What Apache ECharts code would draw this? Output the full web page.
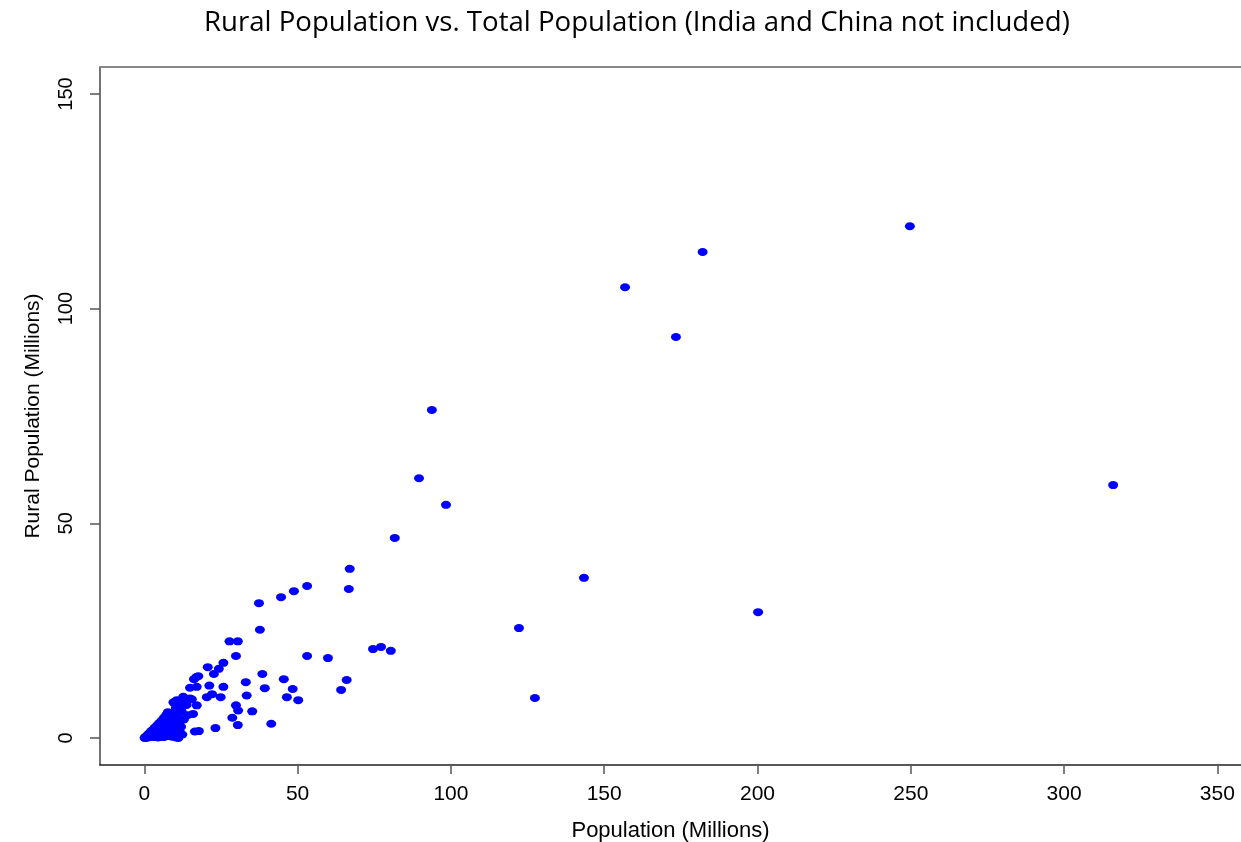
<!DOCTYPE html>
<html>
<head>
<meta charset="utf-8">
<title>Rural Population vs. Total Population</title>
<script src="https://cdn.jsdelivr.net/npm/echarts@6/dist/echarts.min.js"></script>
<style>
  html, body { margin: 0; padding: 0; background: #fff; }
  #chart { width: 1241px; height: 842px; }
</style>
</head>
<body>
<div id="chart"></div>
<script>
// values in millions: [total population, rural population]
var largeCountries = [
  [249.7, 119.2], [182.1, 113.2], [156.8, 105.0], [173.4, 93.4],
  [93.8, 76.4], [89.6, 60.5], [98.4, 54.3], [316.0, 58.9],
  [81.7, 46.6], [143.4, 37.3], [200.2, 29.3], [122.2, 25.6], [127.4, 9.3]
];
var midCountries = [
  [16.2, 13.7], [17.0, 14.2], [17.6, 14.4], [20.7, 16.5], [22.7, 14.9],
  [24.3, 16.1], [25.8, 17.5], [27.8, 22.5], [30.5, 22.5], [29.9, 19.1],
  [37.7, 25.2], [37.4, 31.4], [44.6, 32.8], [48.8, 34.2], [53.1, 35.4],
  [66.7, 34.7], [67.0, 39.4], [38.5, 14.9], [33.1, 13.0], [45.5, 13.7],
  [66.0, 13.5], [21.2, 12.2], [25.8, 11.9], [14.9, 11.7], [17.1, 11.9],
  [39.3, 11.6], [48.4, 11.4], [64.2, 11.2], [33.4, 9.9], [22.1, 10.2],
  [20.4, 9.5], [24.9, 9.5], [46.5, 9.5], [50.2, 8.8], [14.9, 9.2],
  [17.1, 7.6], [29.9, 7.6], [30.6, 6.4], [35.2, 6.2], [15.9, 5.6],
  [28.7, 4.7], [30.5, 3.0], [41.4, 3.3], [23.2, 2.3], [16.5, 1.5],
  [17.8, 1.6], [53.1, 19.1], [59.9, 18.6], [74.6, 20.7], [77.2, 21.2],
  [80.4, 20.3]
];
var smallCountries = [
  [0.1, 0.0], [0.2, 0.1], [0.4, 0.2], [0.5, 0.0], [0.7, 0.4], [0.9, 0.2],
  [1.0, 0.6], [1.2, 0.1], [1.4, 0.9], [1.5, 0.4], [1.8, 1.2], [2.0, 0.3],
  [2.1, 0.8], [2.3, 1.6], [2.6, 0.5], [2.8, 1.9], [3.0, 1.1], [3.2, 0.2],
  [3.4, 2.4], [3.6, 1.5], [3.9, 0.7], [4.1, 2.9], [4.3, 1.9], [4.5, 0.1],
  [4.8, 3.4], [5.0, 1.2], [5.2, 2.4], [5.4, 0.5], [5.6, 4.0], [5.8, 1.8],
  [6.0, 3.0], [6.2, 0.2], [6.4, 4.7], [6.6, 2.3], [6.8, 1.0], [7.0, 3.7],
  [7.2, 5.4], [7.3, 0.4], [7.5, 2.8], [7.7, 6.0], [7.9, 1.6], [8.1, 4.3],
  [8.3, 0.8], [8.5, 3.2], [8.7, 5.2], [8.9, 2.0], [9.1, 0.3], [9.3, 4.0],
  [9.5, 8.3], [9.6, 6.0], [9.8, 1.2], [10.0, 3.0], [10.3, 7.0], [10.4, 0.1],
  [10.6, 8.8], [10.8, 2.2], [11.0, 4.8], [11.1, 0.0], [11.4, 3.5], [11.6, 1.4],
  [11.7, 7.6], [12.0, 2.6], [12.2, 6.2], [12.4, 0.8], [12.7, 9.6], [12.9, 4.3],
  [13.2, 8.0], [13.8, 7.7], [14.1, 5.3], [15.5, 9.0]
];
var xTicks = [0, 50, 100, 150, 200, 250, 300, 350];
var yTicks = [0, 50, 100, 150];

var chart = echarts.init(document.getElementById("chart"), null, { renderer: "canvas" });

var xMin = -14.45, xMax = 357.7;
var yMin = -6.3, yMax = 156.3;

var option = {
  animation: false,
  backgroundColor: "#ffffff",
  title: {
    text: "Rural Population vs. Total Population (India and China not included)",
    left: 199,
    top: 4,
    textStyle: {
      fontFamily: "Open Sans",
      fontSize: 27.6,
      fontWeight: "normal",
      color: "#000000"
    }
  },
  grid: {
    left: 100,
    right: 0,
    top: 67,
    bottom: 77,
    containLabel: false,
    outerBoundsMode: "none"
  },
  xAxis: [
    {
      type: "value",
      position: "bottom",
      min: xMin,
      max: xMax,
      name: "Population (Millions)",
      nameLocation: "middle",
      nameGap: 55,
      nameTextStyle: { fontFamily: "Liberation Sans", fontSize: 22, color: "#000" },
      axisLine: { show: true, onZero: false, lineStyle: { color: "#222", width: 1.5 } },
      axisTick: {
        show: true, inside: false, length: 9,
        customValues: xTicks,
        lineStyle: { color: "#555", width: 1.5 }
      },
      axisLabel: {
        customValues: xTicks,
        margin: 19,
        fontFamily: "Liberation Sans",
        fontSize: 21,
        color: "#000"
      },
      splitLine: { show: false }
    },
    {
      type: "value",
      position: "top",
      min: xMin,
      max: xMax,
      axisLine: { show: true, onZero: false, lineStyle: { color: "#888", width: 2 } },
      axisTick: { show: false },
      axisLabel: { show: false },
      splitLine: { show: false }
    }
  ],
  yAxis: {
    type: "value",
    min: yMin,
    max: yMax,
    name: "Rural Population (Millions)",
    nameLocation: "middle",
    nameRotate: 90,
    nameGap: 56,
    nameTextStyle: { fontFamily: "Liberation Sans", fontSize: 21, color: "#000" },
    axisLine: { show: true, onZero: false, lineStyle: { color: "#444", width: 1.5 } },
    axisTick: {
      show: true, inside: false, length: 10,
      customValues: yTicks,
      lineStyle: { color: "#555", width: 1.5 }
    },
    axisLabel: {
      customValues: yTicks,
      rotate: 90,
      margin: 24,
      fontFamily: "Liberation Sans",
      fontSize: 20,
      color: "#000"
    },
    splitLine: { show: false }
  },
  series: [
    {
      type: "scatter",
      xAxisIndex: 0,
      symbol: "circle",
      symbolSize: [10, 8],
      itemStyle: { color: "#0000ff", opacity: 1 },
      data: smallCountries.concat(midCountries, largeCountries)
    }
  ]
};

chart.setOption(option);
</script>
</body>
</html>
